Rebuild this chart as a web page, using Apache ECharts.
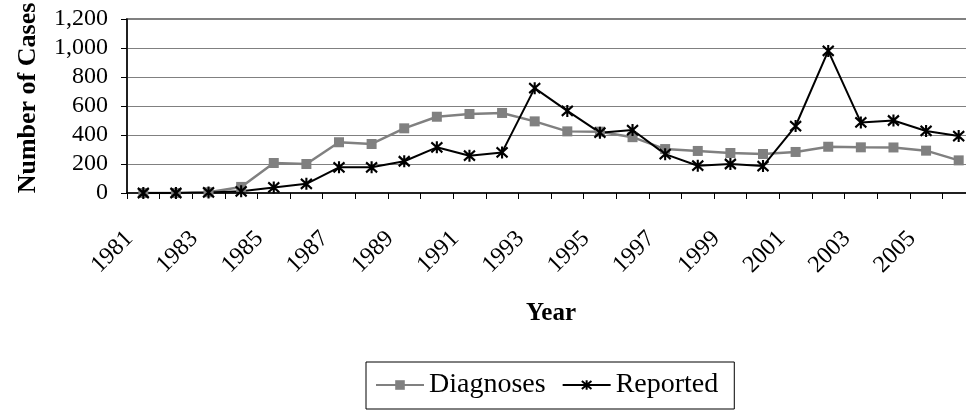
<!DOCTYPE html>
<html>
<head>
<meta charset="utf-8">
<script src="https://cdn.jsdelivr.net/npm/echarts@6/dist/echarts.min.js"></script>
<style>html,body{margin:0;padding:0;background:#fff;}#c{width:966px;height:412px;}</style>
</head>
<body>
<div id="c"></div>
<script>
var years = ['1981','1982','1983','1984','1985','1986','1987','1988','1989','1990','1991','1992','1993','1994','1995','1996','1997','1998','1999','2000','2001','2002','2003','2004','2005','2006'];
var diagnoses = [0, 0, 5, 42, 207, 200, 350, 338, 446, 526, 545, 552, 494, 425, 423, 385, 303, 290, 276, 269, 283, 319, 315, 314, 292, 225];
var reported = [0, 0, 4, 12, 38, 63, 177, 177, 219, 315, 257, 280, 723, 566, 416, 434, 268, 188, 200, 186, 462, 980, 487, 500, 428, 393];
var yTicks = {min: 0, max: 1200, interval: 200};

var FONT = 'Liberation Serif';
var starPath = 'path://M0,1L10,11M10,1L0,11M5,0L5,12';
var chart = echarts.init(document.getElementById('c'), null, {renderer: 'canvas'});
chart.setOption({
  animation: false,
  backgroundColor: '#fff',
  grid: {left: 127, top: 19, right: -9, bottom: 219, containLabel: false, outerBoundsMode: 'none',
         show: true, borderColor: '#808080', borderWidth: 2, backgroundColor: 'transparent'},
  legend: {
    left: 366, top: 362,
    orient: 'horizontal',
    padding: [9, 16, 10, 9],
    borderColor: '#000', borderWidth: 1,
    itemWidth: 48, itemHeight: 12, itemGap: 16,
    textStyle: {fontFamily: FONT, fontSize: 28, color: '#000'},
    data: ['Diagnoses', 'Reported']
  },
  xAxis: {
    type: 'category', data: years, boundaryGap: true,
    name: 'Year', nameLocation: 'middle', nameGap: 108,
    nameTextStyle: {fontFamily: FONT, fontSize: 25, fontWeight: 'bold', color: '#000'},
    axisLine: {lineStyle: {color: '#000', width: 1.5}},
    axisTick: {show: true, interval: 0, length: 6, lineStyle: {color: '#000', width: 1}},
    axisLabel: {interval: 1, rotate: 45, margin: 28, padding: [0, 20, 0, 0],
                fontFamily: FONT, fontSize: 24, color: '#000'},
    splitLine: {show: false}
  },
  yAxis: {
    type: 'value', min: yTicks.min, max: yTicks.max, interval: yTicks.interval,
    name: 'Number of Cases', nameLocation: 'middle', nameGap: 86,
    nameTextStyle: {fontFamily: FONT, fontSize: 26, fontWeight: 'bold', color: '#000', padding: [0, 0, 0, 16]},
    axisLine: {show: true, lineStyle: {color: '#000', width: 1.5}},
    axisTick: {show: true, length: 6, lineStyle: {color: '#000', width: 1}},
    axisLabel: {margin: 19, fontFamily: FONT, fontSize: 24, color: '#000',
                formatter: function (v) { return v.toLocaleString('en-US'); }},
    splitLine: {show: true, lineStyle: {color: '#808080', width: 1}}
  },
  series: [
    {
      name: 'Diagnoses', type: 'line', data: diagnoses,
      symbol: 'rect', symbolSize: 10,
      lineStyle: {color: '#808080', width: 2.5},
      itemStyle: {color: '#808080'}
    },
    {
      name: 'Reported', type: 'line', data: reported,
      symbol: starPath, symbolSize: [11, 12],
      lineStyle: {color: '#000', width: 2},
      itemStyle: {color: '#000', borderColor: '#000', borderWidth: 2.2}
    }
  ]
});
</script>
</body>
</html>
